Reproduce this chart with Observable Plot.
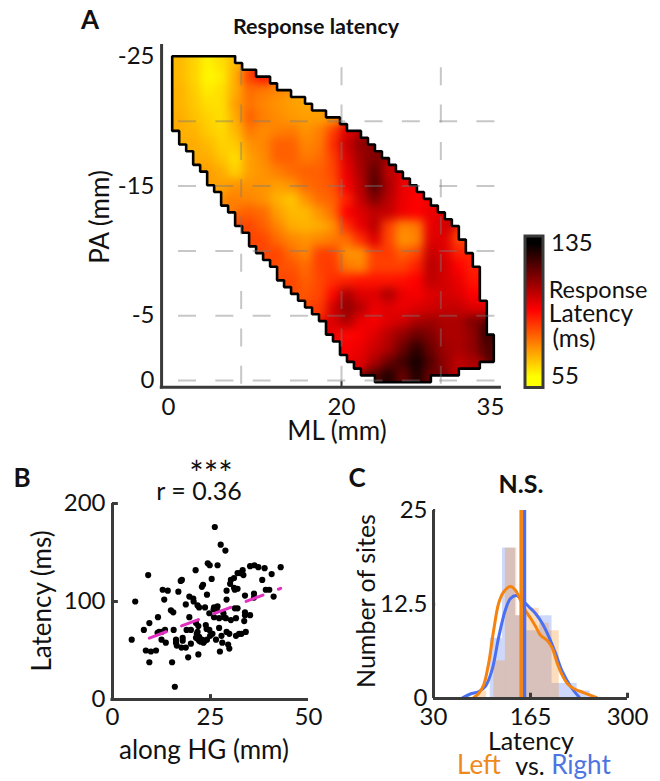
<!DOCTYPE html>
<html><head><meta charset="utf-8">
<script src="https://cdn.jsdelivr.net/npm/d3@7"></script>
<script src="https://cdn.jsdelivr.net/npm/@observablehq/plot@0.6"></script>
<style>
html,body{margin:0;padding:0;background:#fff}
#page{position:relative;width:660px;height:781px;overflow:hidden;font-family:Lato,sans-serif;color:#111}
#page svg{position:absolute;left:0;top:0}
.t{position:absolute;white-space:nowrap;transform:translate(-50%,-50%);line-height:.9}
</style></head><body><div id="page"></div>
<script>
// Panel A: outline of the mapped region, one entry per row (first and end column)
const rowLeft=[0,0,0,0,0,0,0,0,0,0,0,1,1,2,3,3,4,5,5,6,7,7,8,9,9,10,11,11,12,13,14,15,15,16,17,18,19,20,21,22,22,23,24,24,25,26,27,29];
const rowRight=[9,10,12,14,15,17,19,20,22,24,25,27,28,29,30,31,32,33,34,35,36,37,38,39,40,41,41,42,42,43,43,44,44,44,44,44,45,45,45,45,45,46,46,46,46,44,41,37];
// Panel A: latency (ms) read at every other row and column
const heatRows=[1,3,5,7,9,11,13,15,17,19,21,23,25,27,29,31,33,35,37,39,41,43,45,47];
const heatFirstCol=[1,1,1,1,1,3,3,5,5,7,9,11,11,13,15,17,17,19,21,23,25,25,27,29];
const heatValues=[
[66,62,57,60,66],
[66,62,56,58,68,85,92],
[67,63,58,60,68,78,76,74],
[67,64,60,60,70,77,74,72,70,69],
[68,65,62,60,68,80,75,73,71,70,70,72],
[67,63,61,66,76,73,75,76,72,75,85,100],
[68,66,62,63,72,74,80,80,74,76,88,103,112],
[68,64,60,70,73,80,80,76,78,85,100,110,115],
[70,68,62,70,72,75,78,80,80,84,98,108,120,105],
[70,72,72,72,70,72,78,80,82,96,106,122,108,98],
[75,74,72,67,64,72,78,80,90,104,115,106,98,95],
[80,78,70,66,66,72,78,95,100,105,104,97,95,98],
[84,80,74,68,67,68,72,88,98,106,85,74,76,98,102],
[84,78,74,72,74,76,78,88,100,84,72,74,100,100,85],
[84,78,74,85,85,72,72,85,86,80,84,104,100,90],
[82,78,85,86,76,74,85,85,85,90,106,102,95,90],
[84,80,84,88,90,92,92,92,93,95,105,102,98,92],
[82,84,94,108,100,100,108,98,96,100,102,100,95],
[86,102,112,106,98,100,98,100,102,104,104,100],
[100,108,98,96,100,102,108,110,108,108,115],
[94,96,100,106,112,118,115,108,108,112,125],
[96,98,103,108,118,128,118,110,108,112,122],
[100,108,118,125,132,122,112,105,108],
[122,130,118,130,118]
];
const colorbarTicks=[135,55];
const mlTicks=[0,20,35];
const paTicks=[-25,-15,-5,0];
const gridML=[8.4,20,30];
const gridPA=[-20,-15,-10,-5,0];
// Panel B
const hgX=[26.1,27.6,28.8,24.3,24.8,26.8,21.2,9.1,17.7,17.4,25.3,23.1,22.8,33.2,32.6,31.9,33.4,31.0,30.2,30.0,31.0,31.9,31.2,35.1,36.2,37.2,38.8,40.6,42.9,38.2,39.1,40.0,29.1,33.8,36.1,36.1,41.1,12.8,14.1,16.8,13.2,5.8,24.1,19.6,20.6,20.7,29.1,18.7,21.7,22.1,14.9,15.5,23.6,25.9,26.8,25.8,26.6,31.2,31.9,24.7,28.3,33.8,11.6,19.6,25.9,27.2,28.5,28.9,30.2,31.5,33.8,35.1,33.6,9.4,21.3,21.9,23.8,24.0,27.2,24.7,8.0,11.9,13.4,15.6,18.9,20.0,21.5,4.9,12.5,13.6,16.2,17.9,17.9,16.2,16.4,20.0,21.7,22.1,22.8,23.6,24.1,22.5,23.2,25.5,24.9,26.4,27.8,29.1,29.8,28.0,29.5,31.5,32.3,32.9,34.0,17.6,18.7,8.5,9.8,11.1,27.4,29.8,9.4,15.2,19.3,21.9,15.9,11.5,12.5,22.1,21.3,21.7];
const latencyY=[176,158,152,139,137,137,132,127,122,121,123,117,115,132,129,129,127,124,122,118,114,113,112,136,137,135,134,128,135,122,112,112,111,106,108,104,105,112,111,110,102,100,107,105,103,100,102,97,96,94,91,89,94,94,95,92,91,93,93,88,88,89,84,84,84,83,84,83,81,83,86,86,80,78,78,75,76,72,73,71,71,69,71,71,71,71,67,61,61,58,61,63,60,58,55,57,62,60,61,60,61,59,58,67,65,61,65,69,67,58,56,65,67,67,69,53,53,50,49,50,49,52,38,38,43,46,13,68,69,64,63,69];
const fitX=[9.4,42.9];
const fitY=[62.6,113.4];
// Panel C
const rightEdges=[109,126,144,160,178,195,212,230,248];
const rightCounts=[8,20,11,9,11,2,2,1];
const leftEdges=[93,104,114,130,146,160,177,191,205];
const leftCounts=[1,0,5,20,11,12,10,9];
const kdeLeftX=[85.9,92.8,99.8,106.8,113.8,120.8,127.8,137.1,144,151,158,165,172,179,188.3,195.3,202.2,209.2,216.2,225.5,239.5,257.2];
const kdeLeftY=[0.1,0.67,1.8,4.7,9.1,12.7,14.2,14.9,14.4,13.1,11.7,10.7,9.6,8.4,7.7,6.7,4.7,3.1,2,1.3,0.76,0.1];
const kdeRightX=[70.5,81.2,92.8,102.2,111.5,120.8,130.1,137.1,145.4,153.4,162.7,172,181.3,190.6,199.9,209.2,220.9,232.5];
const kdeRightY=[0.1,0.6,0.9,1.6,3.8,8.2,11.8,13.3,13.7,13.1,12.2,11.3,10,8.2,6,3.6,1.6,0.2];
const meanLeft=[152];
const meanRight=[156.6];
const annotations=[
["A",90,20,26,700,"#111",0],["B",22,478,26,700,"#111",0],["C",357,478,26,700,"#111",0],
["Response latency",316,27,21.5,700,"#111",0],
["ML (mm)",337,431,26,400,"#111",0],["PA (mm)",100,217,26,400,"#111",-90],
["Response",598,290,23.5,400,"#111",0],["Latency",591,313,24.5,400,"#111",0],["(ms)",574,338,24.5,400,"#111",0],
["***",211,473,34,400,"#111",0],["r = 0.36",199,490,25,400,"#111",0],
["Latency (ms)",42,601,26,400,"#111",-90],["along HG (mm)",204,750,26,400,"#111",0],
["N.S.",521,483,25,700,"#111",0],["Number of sites",365,601,25,400,"#111",-90],
["Latency",531,740,25,400,"#111",0],["Left",479,765,26,400,"#ee8a1d",0],["vs.",530,765,25,400,"#111",0],["Right",581,765,26,400,"#4d74e0",0]
];

const AX="#3a3a3a", BLUE="#4a6ff0", ORANGE="#f5830f", PINK="#e22fc0";
const base={fontFamily:"Lato",fontSize:"24px",background:"transparent",overflow:"visible",color:"#111"};
const W=660,H=781;
const page=document.getElementById("page");
const colorOpts={type:"linear",domain:[55,95,135],range:["#ffff00","#ff0000","#000000"],clamp:true};

// ---- Panel A: heat map
const samples=heatRows.flatMap((r,i)=>heatValues[i].map((v,j)=>({c:heatFirstCol[i]+2*j,r,v})));
const rowIdx=d3.range(48);
const mask=[
  ...rowIdx.map(r=>({x1:-2,x2:rowLeft[r],y1:r,y2:r+1})),
  ...rowIdx.map(r=>({x1:rowRight[r],x2:48,y1:r,y2:r+1})),
  {x1:-2,x2:48,y1:-2,y2:0},{x1:-2,x2:48,y1:48,y2:50}
];
const outline=[
  ...rowIdx.flatMap(r=>[{c:rowRight[r],r},{c:rowRight[r],r:r+1}]),
  ...rowIdx.slice().reverse().flatMap(r=>[{c:rowLeft[r],r:r+1},{c:rowLeft[r],r}]),
  {c:rowRight[0],r:0}
];
page.append(Plot.plot({
  width:W,height:H,style:base,
  marginLeft:164,marginRight:W-500,marginTop:48,marginBottom:H-389,
  x:{domain:[0,46],range:[171.7,493.3],axis:null},
  y:{domain:[0,48],range:[55.7,381.7],axis:null},
  color:colorOpts,
  marks:[
    Plot.raster(samples,{x:"c",y:"r",fill:"v",interpolate:"nearest",blur:4,pixelSize:1,imageRendering:"auto"}),
    Plot.rect(mask,{x1:"x1",x2:"x2",y1:"y1",y2:"y2",fill:"white",shapeRendering:"crispEdges"}),
    Plot.line(outline,{x:"c",y:"r",stroke:"#000",strokeWidth:2.6,strokeLinejoin:"miter"})
  ]
}));
// Panel A: axes and dashed guide lines
page.append(Plot.plot({
  width:W,height:H,style:base,
  marginLeft:161,marginRight:W-501,marginTop:44,marginBottom:H-387,
  x:{type:"linear",domain:[0,20,35],range:[168,341,490]},
  y:{domain:[-25,0],range:[56,380]},
  marks:[
    Plot.ruleY(gridPA,{x1:1.16,x2:35.7,stroke:"#7a7a7a",strokeOpacity:.42,strokeWidth:2,strokeDasharray:"18,19.3"}),
    Plot.ruleX(gridML,{y1:-24.13,y2:0.3,stroke:"#7a7a7a",strokeOpacity:.42,strokeWidth:2,strokeDasharray:"18,19.3"}),
    Plot.ruleX([-0.8],{y1:-25.93,y2:0.65,stroke:AX,strokeWidth:3}),
    Plot.ruleY([0.52],{x1:-0.95,x2:36.1,stroke:AX,strokeWidth:3}),
    Plot.ruleX([20],{y1:0.52,y2:0.1,stroke:AX,strokeWidth:2}),
    Plot.axisX(mlTicks,{tickSize:0,tickPadding:10,label:null,fontSize:24,tickFormat:d=>String(d)}),
    Plot.axisY(paTicks,{tickSize:0,tickPadding:7,label:null,fontSize:24,tickFormat:d=>String(d)})
  ]
}));
// Panel A: colour bar
page.append(Plot.plot({
  width:W,height:H,style:base,
  marginLeft:524.5,marginRight:W-542.5,marginTop:235.5,marginBottom:H-387,
  x:{domain:[0,1],axis:null},
  y:{domain:[135,55],range:[243,376],axis:null},
  color:colorOpts,
  marks:[
    Plot.raster({fill:(x,y)=>y,x1:0,x2:1,y1:49,y2:139.5,pixelSize:1}),
    Plot.frame({stroke:AX,strokeWidth:3}),
    Plot.axisY(colorbarTicks,{anchor:"right",tickSize:0,tickPadding:8,label:null,fontSize:24,tickFormat:d=>String(d)})
  ]
}));

// ---- Panel B
const pts=hgX.map((x,i)=>({x,y:latencyY[i]}));
page.append(Plot.plot({
  width:W,height:H,style:base,
  marginLeft:112,marginRight:W-308,marginTop:503,marginBottom:H-699,
  x:{domain:[0,50]},
  y:{domain:[0,200]},
  marks:[
    Plot.dot(pts,{x:"x",y:"y",r:3.1,fill:"#000"}),
    Plot.line(fitX.map((x,i)=>({x,y:fitY[i]})),{x:"x",y:"y",stroke:PINK,strokeWidth:3,strokeDasharray:"18,16.5"}),
    Plot.ruleX([0],{y1:0,y2:200,stroke:AX,strokeWidth:3}),
    Plot.ruleY([0],{x1:-0.4,x2:50,stroke:AX,strokeWidth:3}),
    Plot.ruleY([200,100],{x1:0,x2:1.5,stroke:AX,strokeWidth:3}),
    Plot.ruleX([25],{y1:0,y2:5,stroke:AX,strokeWidth:3}),
    Plot.axisX([0,25,50],{tickSize:0,tickPadding:8,label:null,fontSize:24,tickFormat:d=>String(d)}),
    Plot.axisY([0,100,200],{tickSize:0,tickPadding:7,label:null,fontSize:24,tickFormat:d=>String(d)})
  ]
}));

// ---- Panel C
const bins=(e,c)=>c.map((v,i)=>({x1:e[i],x2:e[i+1],v})).filter(d=>d.v>0);
const kde=(X,Y)=>X.map((x,i)=>({x,y:Y[i]}));
page.append(Plot.plot({
  width:W,height:H,style:base,
  marginLeft:433,marginRight:W-627,marginTop:510,marginBottom:H-698,
  x:{domain:[30,300]},
  y:{domain:[0,25]},
  marks:[
    Plot.rectY(bins(rightEdges,rightCounts),{x1:"x1",x2:"x2",y:"v",fill:BLUE,fillOpacity:.27,inset:0}),
    Plot.rectY(bins(leftEdges,leftCounts),{x1:"x1",x2:"x2",y:"v",fill:ORANGE,fillOpacity:.27,inset:0}),
    Plot.line(kde(kdeRightX,kdeRightY),{x:"x",y:"y",stroke:BLUE,strokeWidth:3,curve:"catmull-rom"}),
    Plot.line(kde(kdeLeftX,kdeLeftY),{x:"x",y:"y",stroke:ORANGE,strokeWidth:3,curve:"catmull-rom"}),
    Plot.ruleX(meanRight,{y1:0,y2:25,stroke:BLUE,strokeWidth:3.5}),
    Plot.ruleX(meanLeft,{y1:0,y2:25,stroke:ORANGE,strokeWidth:3.5}),
    Plot.ruleX([30],{y1:0,y2:25,stroke:AX,strokeWidth:3}),
    Plot.ruleY([0],{x1:30,x2:300,stroke:AX,strokeWidth:3}),
    Plot.ruleY([25,12.5],{x1:30,x2:33,stroke:AX,strokeWidth:3}),
    Plot.ruleX([165,300],{y1:0,y2:0.7,stroke:AX,strokeWidth:3}),
    Plot.axisX([30,165,300],{tickSize:0,tickPadding:9,label:null,fontSize:24,tickFormat:d=>String(d)}),
    Plot.axisY([0,12.5,25],{tickSize:0,tickPadding:6,label:null,fontSize:24,tickFormat:d=>String(d)})
  ]
}));

// ---- Titles and labels
for(const [s,x,y,size,weight,color,rot] of annotations){
  const d=document.createElement("div");
  d.className="t";d.textContent=s;
  d.style.cssText=`left:${x}px;top:${y}px;font-size:${size}px;font-weight:${weight};color:${color};transform:translate(-50%,-50%) rotate(${rot}deg)`;
  page.append(d);
}
</script></body></html>
